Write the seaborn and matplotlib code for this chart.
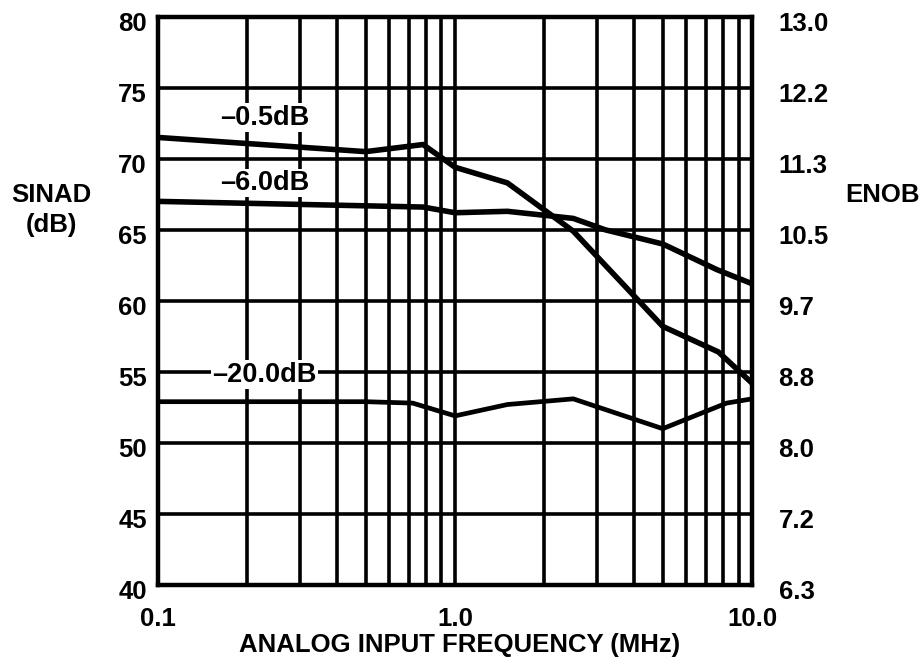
import matplotlib
matplotlib.use("Agg")
import matplotlib.pyplot as plt
from matplotlib.transforms import ScaledTranslation
import seaborn as sns
import numpy as np
import pandas as pd

# ---- data ----
freq_05 = [0.1, 0.5, 0.78, 1.0, 1.5, 2.5, 5.0, 7.7, 10.0]
sinad_05 = [71.5, 70.5, 71.0, 69.4, 68.3, 64.9, 58.2, 56.4, 54.2]

freq_6 = [0.1, 0.78, 1.0, 1.5, 2.5, 3.2, 5.0, 7.6, 10.0]
sinad_6 = [67.0, 66.6, 66.2, 66.3, 65.8, 65.0, 64.0, 62.2, 61.2]

freq_20 = [0.1, 0.5, 0.72, 1.0, 1.5, 2.5, 5.0, 8.2, 10.0]
sinad_20 = [52.9, 52.9, 52.8, 51.9, 52.7, 53.1, 51.0, 52.8, 53.1]

series_names = ["\u20130.5dB", "\u20136.0dB", "\u201320.0dB"]
label_pos_x = [0.228, 0.228, 0.228]
label_pos_y = [72.9, 68.3, 54.8]

x_ticks = [0.1, 1.0, 10.0]
x_tick_labels = ["0.1", "1.0", "10.0"]
y_ticks = [40, 45, 50, 55, 60, 65, 70, 75, 80]
y_tick_labels = ["40", "45", "50", "55", "60", "65", "70", "75", "80"]
enob_labels = ["6.3", "7.2", "8.0", "8.8", "9.7", "10.5", "11.3", "12.2", "13.0"]

frames = []
for name, f, s in [(series_names[0], freq_05, sinad_05),
                   (series_names[1], freq_6, sinad_6),
                   (series_names[2], freq_20, sinad_20)]:
    frames.append(pd.DataFrame({"freq": f, "sinad": s, "level": name}))
df = pd.concat(frames, ignore_index=True)

# ---- style ----
sns.set_theme(style="white")
plt.rcParams["font.family"] = ["Liberation Sans", "DejaVu Sans"]
plt.rcParams["font.weight"] = "bold"

fig = plt.figure(figsize=(9.24, 6.67), dpi=100)
ax = fig.add_axes([0.171, 0.123, 0.643, 0.852])

ax.set_xscale("log")
ax.set_xlim(0.1, 10.0)
ax.set_ylim(40, 80)

minor = [m * d for d in (0.1, 1.0) for m in range(2, 10)]
ax.set_xticks(x_ticks)
ax.set_xticklabels(x_tick_labels)
ax.set_xticks(minor, minor=True)
ax.set_xticklabels([], minor=True)
ax.set_yticks(y_ticks)
ax.set_yticklabels(y_tick_labels)

ax.grid(True, which="both", axis="x", color="black", linewidth=2.6)
ax.grid(True, which="major", axis="y", color="black", linewidth=2.6)
ax.set_axisbelow(True)

lw = {series_names[0]: 4.0, series_names[1]: 4.0, series_names[2]: 3.4}
for name in series_names:
    sub = df[df["level"] == name]
    sns.lineplot(data=sub, x="freq", y="sinad", ax=ax, color="black",
                 linewidth=lw[name], legend=False, sort=True)

for name, lx, ly in zip(series_names, label_pos_x, label_pos_y):
    ax.text(lx, ly, name, ha="center", va="center", fontsize=19.5,
            fontweight="bold", color="black", zorder=5,
            bbox=dict(facecolor="white", edgecolor="none", pad=1.0))

for sp in ax.spines.values():
    sp.set_visible(True)
    sp.set_color("black")
    sp.set_linewidth(3.2)

ax.tick_params(axis="both", which="both", length=0, labelsize=18.5,
               labelcolor="black")
ax.tick_params(axis="y", pad=8)
ax.tick_params(axis="x", pad=16)

off = ScaledTranslation(0, -5 / 100, fig.dpi_scale_trans)
for lbl in ax.get_yticklabels():
    lbl.set_transform(lbl.get_transform() + off)
    lbl.set_fontweight("bold")
for lbl in ax.get_xticklabels():
    lbl.set_fontweight("bold")

ax.set_xlabel("ANALOG INPUT FREQUENCY (MHz)", fontsize=18.5, fontweight="bold",
              color="black")
ax.xaxis.set_label_coords(0.508, -0.084)
ax.set_ylabel("SINAD\n(dB)", fontsize=18.5, fontweight="bold", color="black",
              rotation=0, ha="center", va="center", linespacing=1.3)
ax.yaxis.set_label_coords(-0.180, 0.660)

ax2 = ax.twinx()
ax2.set_ylim(40, 80)
ax2.set_yticks(y_ticks)
ax2.set_yticklabels(enob_labels)
ax2.grid(False)
for sp in ax2.spines.values():
    sp.set_visible(False)
ax2.tick_params(axis="y", length=0, labelsize=18.5, pad=19, labelcolor="black")
for lbl in ax2.get_yticklabels():
    lbl.set_transform(lbl.get_transform() + off)
    lbl.set_fontweight("bold")
ax2.set_ylabel("ENOB", fontsize=18.5, fontweight="bold", color="black",
               rotation=0, ha="center", va="center")
ax2.yaxis.set_label_coords(1.219, 0.686)

fig.savefig("out.png", dpi=100, facecolor="white")
